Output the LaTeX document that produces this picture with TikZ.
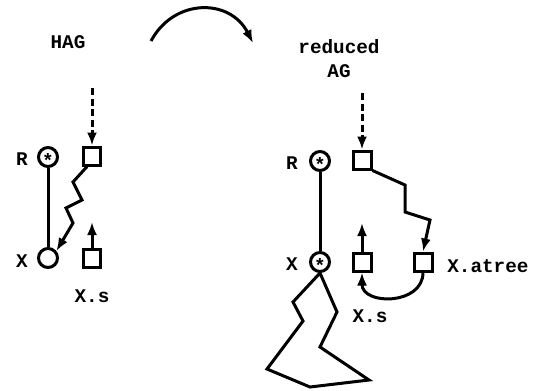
\documentclass[tikz,border=0pt]{standalone}
\usepackage{fontspec}
\setmonofont{Liberation Mono}
\usetikzlibrary{arrows.meta}

\tikzset{
  attr/.style={draw, line width=0.06cm, minimum size=0.36cm, inner sep=0pt},
  inst/.style={draw, circle, line width=0.06cm, minimum size=0.38cm, inner sep=0pt},
  lbl/.style={font=\ttfamily\bfseries\fontsize{11}{13.6}\selectfont, inner sep=0pt},
  star/.style={font=\ttfamily\bfseries\fontsize{11}{11}\selectfont},
  wire/.style={line width=0.06cm},
  dep/.style={wire, -{Latex[length=0.26cm,width=0.2cm]}},
  inh/.style={dep, dash pattern=on 0.14cm off 0.07cm},
}

\begin{document}
\begin{tikzpicture}[x=0.02cm, y=-0.02cm]
            \useasboundingbox (0,0) rectangle (541,390);
            
            % Drawing arc from HAG to reduced AG
            \coordinate (arcA) at (151,41);
            \coordinate (arcB) at (253,43);
            \draw [dep] (arcA) .. controls (174,-2) and (230,-2) .. (arcB);%
            
            % Marking titles
            \node [lbl] (hag) at (68,42) {HAG};%
            \node [lbl, align=center] (rag) at (339,59) {reduced\\AG};%
            
            % Marking nodes of HAG
            \node [lbl] (lR1) at (22,159) {R};%
            \node [inst, star] (R1) at (48,157) {\raisebox{-0.56em}[0pt][0pt]{*}};%
            \node [attr] (q1) at (92,156) {};%
            \node [lbl] (lX1) at (22,261) {X};%
            \node [inst] (X1) at (48,258) {};%
            \node [attr] (s1) at (92,258) {};%
            \node [lbl] (ls1) at (92,296) {X.s};%
            
            % Drawing edges of HAG
            \coordinate (in1) at (92,88);
            \coordinate (up1) at (92,222);
            \draw [inh] (in1) -- (q1.north);%
            \draw [wire] (R1.south) -- (X1.north);%
            \draw [dep] (q1.-115) -- (73,182) -- (82,200) -- (66,208) -- (73,223) -- (X1.40);%
            \draw [dep] (s1.north) -- (up1);%
            
            % Marking nodes of reduced AG
            \node [lbl] (lR2) at (292,163) {R};%
            \node [inst, star] (R2) at (320,161) {\raisebox{-0.56em}[0pt][0pt]{*}};%
            \node [attr] (q2) at (362,160) {};%
            \node [lbl] (lX2) at (292,264) {X};%
            \node [inst, star] (X2) at (320,262) {\raisebox{-0.56em}[0pt][0pt]{*}};%
            \node [attr] (s2) at (362,262) {};%
            \node [attr] (a2) at (423,262) {};%
            \node [lbl, anchor=west] (la2) at (447,266) {X.atree};%
            \node [lbl] (ls2) at (370,316) {X.s};%
            
            % Drawing edges of reduced AG
            \coordinate (in2) at (362,93);
            \coordinate (up2) at (362,223);
            \draw [inh] (in2) -- (q2.north);%
            \draw [wire] (R2.south) -- (X2.north);%
            \draw [dep] (q2.south east) -- (405,185) -- (405,212) -- (430,220) -- (a2.north);%
            \draw [dep] (s2.north) -- (up2);%
            \draw [dep] (a2.south) .. controls +(0,33) and +(0,33) .. (s2.south);%
            
            % Drawing tree below X
            \draw [wire] (X2.south) -- (293,302) -- (303,321) -- (267,369) -- (310,387)
              -- (369,380) -- (320,347) -- (337,312) -- cycle;%
\end{tikzpicture}
\end{document}
